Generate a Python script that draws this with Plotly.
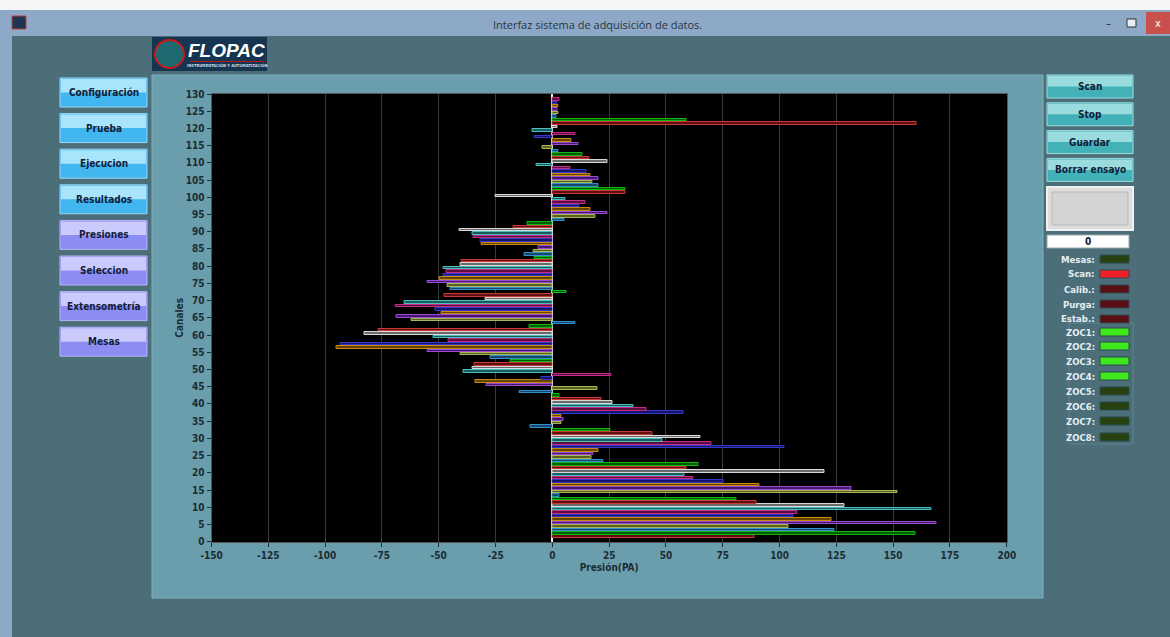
import plotly.graph_objects as go

# channel pressures
channels = list(range(1, 129))
pressures = [
    89, 160, 124, 104, 169, 123, 106, 108, 167, 128.5,
    90, 81, 3.3, 152, 131.6, 91, 75.5, 62, 58, 119.6,
    59, 64.4, 22.6, 17.2, 17.9, 20.5, 102, 70, 48.6, 65,
    44, 25.7, -9.4, 4.2, 4.7, 4.2, 57.5, 41.5, 35.8, 26.4,
    21.7, 3.3, -14.4, 20, -29, -34, -4.7, 26, -39, -35,
    -34.4, -18.6, -27.1, -40.6, -55, -94.8, -93.4, -45.5, -52.4, -82.8,
    -76.4, -9.9, 10.4, -61.8, -68.6, -48.6, -51.4, -69.1, -65.1, -29.5,
    -47.6, 6.1, -44.8, -46, -55, -49.8, -48.1, -46.7, -48.1, -40.6,
    -40.1, -8, -12.3, -8.5, -6.1, -31.1, -31.4, -34.7, -35.1, -41,
    -17.2, -11.1, 5.2, 18.9, 24.3, 17, 11.8, 14.6, 5.7, -24.8,
    32.3, 32.1, 20.3, 17.7, 20.3, 17, 15.1, 8, -6.8, 24.1,
    16.3, 13.2, 2.8, -4.5, 11.6, 8.3, -8, 10.4, -8.7, 2.4,
    160.1, 59.2, 1.9, 2.8, 2.4, 2.8, 2.1, 3.3,
]

x_ticks = list(range(-150, 201, 25))
y_ticks = list(range(0, 131, 5))

left_buttons = ["Configuración", "Prueba", "Ejecucion", "Resultados",
                "Presiones", "Seleccion", "Extensometría", "Mesas"]
right_buttons = ["Scan", "Stop", "Guardar", "Borrar ensayo"]
led_labels = ["Mesas:", "Scan:", "Calib.:", "Purga:", "Estab.:",
              "ZOC1:", "ZOC2:", "ZOC3:", "ZOC4:", "ZOC5:", "ZOC6:", "ZOC7:", "ZOC8:"]
led_states = ["off_g", "on_r", "off_r", "off_r", "off_r",
              "on_g", "on_g", "on_g", "on_g", "off_g", "off_g", "off_g", "off_g"]

# LabVIEW plot colour cycle (outline, fill)
cycle = [("#c83a3a", "#5e1010"), ("#14b814", "#005a00"), ("#3490c8", "#18466a"),
         ("#aab45a", "#58621e"), ("#9a4cd0", "#44186a"), ("#c88a12", "#644200"),
         ("#3838c8", "#141468"), ("#c02e88", "#5e0e3e"), ("#4cbcbc", "#185c5c"),
         ("#d8d8d8", "#6a6a6a")]
line_cols = [cycle[(c - 1) % 10][0] for c in channels]
fill_cols = [cycle[(c - 1) % 10][1] for c in channels]

W, H = 1170, 637
shapes = []
annots = []


def rect(x0, y0, x1, y1, fill, line=None, lw=0, layer="below"):
    shapes.append(dict(type="rect", xref="paper", yref="paper",
                       x0=x0 / W, x1=x1 / W, y0=1 - y1 / H, y1=1 - y0 / H,
                       fillcolor=fill, line=dict(color=line or fill, width=lw),
                       layer=layer))


def text(x, y, s, size=10, color="#10203a", bold=True, anchor="center", family="DejaVu Sans Condensed"):
    annots.append(dict(x=x / W, y=1 - y / H, xref="paper", yref="paper", text=s,
                       showarrow=False, xanchor=anchor, yanchor="middle",
                       font=dict(size=size, color=color, family=family,
                                 weight="bold" if bold else "normal")))


def button(x0, y0, x1, y1, top, bottom, border, label):
    rect(x0, y0, x1, y1, bottom, border, 1)
    rect(x0 + 1, y0 + 1, x1 - 1, (y0 + y1) / 2, top)
    text((x0 + x1) / 2, (y0 + y1) / 2, label)


# window chrome
rect(0, 0, W, 10, "#f4f6f8")
rect(0, 10, W, 36, "#8da9c7")
rect(0, 36, 12, H, "#8da9c7")
rect(12, 36, W, H, "#4b6e79")
rect(12, 16, 26, 29, "#1d3550", "#c04040", 1)
text(597, 24, "Interfaz sistema de adquisición de datos.", size=11, color="#2a3440",
     bold=False, family="Open Sans")
text(1108, 23, "–", size=11, color="#222", bold=False)
rect(1127, 19, 1136, 27, "#e8eef4", "#333", 1)
rect(1146, 12, 1170, 34, "#c9504c")
text(1158, 23, "x", size=11, color="#ffffff", bold=False)

# logo
rect(152, 37, 267, 71, "#153550")
shapes.append(dict(type="circle", xref="paper", yref="paper",
                   x0=155 / W, x1=184 / W, y0=1 - 68 / H, y1=1 - 40 / H,
                   fillcolor="#1d6a70", line=dict(color="#d01818", width=2), layer="below"))
text(226, 51, "<i>FLOPAC</i>", size=19, color="#ffffff", family="Liberation Sans")
rect(190, 61, 265, 62, "#c01818")
text(227, 65, "INSTRUMENTACIÓN Y AUTOMATIZACIÓN", size=4, color="#d0d8e0")

# chart panel and plot area
rect(152, 75, 1043, 598, "#6a9eac", "#7fb2bf", 1)
rect(211, 93, 1007, 542, "#000000")

# left navigation buttons
for i, lab in enumerate(left_buttons):
    y0 = 78 + i * 35.6
    if i < 4:
        button(60, y0, 147, y0 + 29, "#a8e4fb", "#42b6ef", "#9ad8f6", lab)
    else:
        button(60, y0, 147, y0 + 29, "#cacafc", "#8c8cf3", "#b6b6f6", lab)

# right action buttons
for i, lab in enumerate(right_buttons):
    y0 = 75 + i * 27.8
    button(1047, y0, 1133, y0 + 23, "#9adcde", "#43b2b8", "#a2dcde", lab)

rect(1047, 187, 1133, 230, "#dcdcdc", "#f0f0f0", 2)
rect(1052, 192, 1128, 225, "#d4d4d4", "#b8b8b8", 1)
rect(1047, 235, 1129, 248, "#ffffff", "#9aa", 1)
text(1088, 241.5, "0", size=10)

# LEDs
rect(1069, 323, 1133, 444, "#4b6e79", "#5f8590", 1)
led_fill = {"off_g": "#27420f", "on_g": "#3ee81a", "off_r": "#5a0f12", "on_r": "#f0202a"}
led_y = [259, 274, 289, 304, 319, 332, 346, 361, 376, 391, 406, 421, 437]
for lab, st, yy in zip(led_labels, led_states, led_y):
    rect(1100, yy - 4, 1129, yy + 4, led_fill[st], "#2c4a52", 1)
    text(1097, yy, lab, size=9.5, color="#e6eef2", anchor="right")

fig = go.Figure()
fig.add_trace(go.Bar(
    x=pressures, y=channels, orientation="h",
    width=0.72, offset=0.09,
    marker=dict(color=fill_cols, line=dict(color=line_cols, width=1)),
    showlegend=False,
))

tick_font = dict(size=10, color="#1c2c34", family="DejaVu Sans Condensed", weight="bold")
fig.update_layout(
    width=W, height=H,
    margin=dict(l=0, r=0, t=0, b=0, pad=0),
    paper_bgcolor="#4b6e79",
    plot_bgcolor="#000000",
    shapes=shapes,
    annotations=annots,
    bargap=0,
    xaxis=dict(domain=[211.5 / W, 1006.8 / W], range=[-150, 200], tickvals=x_ticks,
               ticktext=[str(v) for v in x_ticks],
               showgrid=True, gridcolor="#3a3a3a", gridwidth=1,
               zeroline=True, zerolinecolor="#e8e8e8", zerolinewidth=1.5,
               ticks="outside", ticklen=4, tickcolor="#1c2c34", tickfont=tick_font,
               showline=True, linecolor="#555555", mirror=True, automargin=False,
               title=dict(text="Presión(PA)", font=tick_font, standoff=4)),
    yaxis=dict(domain=[1 - 541.7 / H, 1 - 94 / H], range=[0, 130], tickvals=y_ticks,
               showgrid=False, zeroline=False,
               ticks="outside", ticklen=4, tickcolor="#1c2c34", tickfont=tick_font,
               showline=True, linecolor="#555555", mirror=True, automargin=False,
               title=dict(text="Canales", font=tick_font, standoff=0)),
)

fig.write_html("out.html", config={"displayModeBar": False},
               post_script="document.body.style.margin='0';")
